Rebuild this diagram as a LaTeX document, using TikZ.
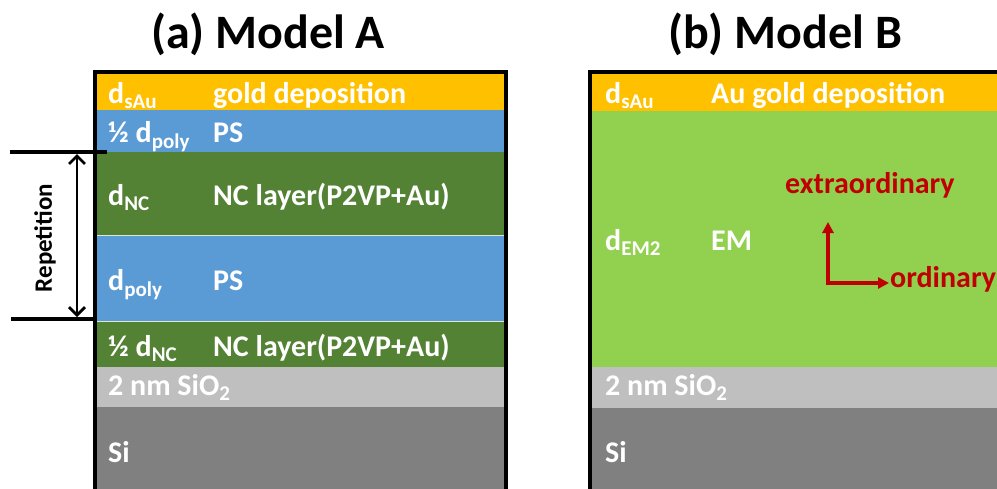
\documentclass[tikz,border=0pt]{standalone}
\usepackage{fontspec}
\setmainfont{Carlito}
\usetikzlibrary{arrows.meta}
\definecolor{cgold}{HTML}{FFC000}
\definecolor{cblue}{HTML}{5B9BD5}
\definecolor{cdgreen}{HTML}{548235}
\definecolor{clgreen}{HTML}{92D050}
\definecolor{csio}{HTML}{BFBFBF}
\definecolor{csi}{HTML}{808080}
\definecolor{cred}{HTML}{C00000}
\newcommand{\sub}[1]{\textsubscript{#1}}
\tikzset{
  lbl/.style={anchor=base west, text=white, font=\bfseries\fontsize{30}{34}\selectfont, inner sep=0pt},
  ttl/.style={anchor=base, font=\bfseries\fontsize{48}{52}\selectfont, inner sep=0pt},
  redlbl/.style={anchor=base west, text=cred, font=\bfseries\fontsize{30}{34}\selectfont, inner sep=0pt},
  frame/.style={line width=3.5pt, black},
  repline/.style={line width=3.2pt, black},
  redarrow/.style={cred, line width=3.4pt, -{Triangle[length=11pt,width=11pt]}}
}
\begin{document}
\begin{tikzpicture}[x=1pt,y=-1pt]
\useasboundingbox (0,0) rectangle (997,488);
\begin{scope}
\clip (0,0) rectangle (997,488);
% Model A layers
\fill[cgold] (95,72) rectangle (506,110);
\fill[cblue] (95,110) rectangle (506,152);
\fill[cdgreen] (95,152) rectangle (506,235);
\fill[cblue] (95,235) rectangle (506,321);
\fill[cdgreen] (95,321) rectangle (506,367);
\fill[csio] (95,367) rectangle (506,407);
\fill[csi] (95,407) rectangle (506,490);
\draw[white!80!cdgreen, line width=0.8pt] (95,235) -- (506,235);
\draw[white!80!cdgreen, line width=0.8pt] (95,321) -- (506,321);
\draw[frame] (95,495) -- (95,72) -- (506,72) -- (506,495);
% Model B layers
\fill[cgold] (590,72) rectangle (1000,111);
\fill[clgreen] (590,111) rectangle (1000,367);
\fill[csio] (590,367) rectangle (1000,408);
\fill[csi] (590,408) rectangle (1000,490);
\draw[frame] (590,495) -- (590,72) -- (1002,72);
\end{scope}
% titles
\node[ttl] (ta) at (268,48) {(a) Model A};
\node[ttl] (tb) at (785,48) {(b) Model B};
% Model A labels
\node[lbl] (a1) at (108,103) {d\sub{sAu}};
\node[lbl] (a1t) at (213,103) {gold deposition};
\node[lbl] (a2) at (108,142) {½ d\sub{poly}};
\node[lbl] (a2t) at (213,142) {PS};
\node[lbl] (a3) at (108,205) {d\sub{NC}};
\node[lbl] (a3t) at (213,205) {NC layer(P2VP+Au)};
\node[lbl] (a4) at (108,290) {d\sub{poly}};
\node[lbl] (a4t) at (213,290) {PS};
\node[lbl] (a5) at (108,356) {½ d\sub{NC}};
\node[lbl] (a5t) at (213,356) {NC layer(P2VP+Au)};
\node[lbl] (a6) at (108,395) {2 nm SiO\sub{2}};
\node[lbl] (a7) at (108,462) {Si};
% repetition
\coordinate (rt1) at (10,152);
\coordinate (rt2) at (107,152);
\coordinate (rb1) at (11,319);
\coordinate (rb2) at (95,319);
\coordinate (ra) at (77,154);
\coordinate (rb) at (77,317);
\draw[repline] (rt1) -- (rt2);
\draw[repline] (rb1) -- (rb2);
\draw[line width=2.8pt, {Straight Barb[length=8pt,width=16pt]}-{Straight Barb[length=8pt,width=16pt]}] (ra) -- (rb);
\node[rotate=90, font=\bfseries\fontsize{25}{28}\selectfont, inner sep=0pt] (rep) at (45,238) {Repetition};
% Model B labels
\node[lbl] (b1) at (605,103) {d\sub{sAu}};
\node[lbl] (b1t) at (711,103) {Au gold deposition};
\node[lbl] (b2) at (605,250) {d\sub{EM2}};
\node[lbl] (b2t) at (711,250) {EM};
\node[lbl] (b3) at (605,395) {2 nm SiO\sub{2}};
\node[lbl] (b4) at (605,462) {Si};
\node[redlbl] (ex) at (785,193) {extraordinary};
\node[redlbl] (ord) at (890,287) {ordinary};
\coordinate (corner) at (828,283);
\coordinate (up) at (828,222);
\coordinate (rt) at (889,283);
\draw[redarrow] ([yshift=1.7pt]corner) -- (up);
\draw[redarrow] ([xshift=-1.7pt]corner) -- (rt);
\end{tikzpicture}
\end{document}
